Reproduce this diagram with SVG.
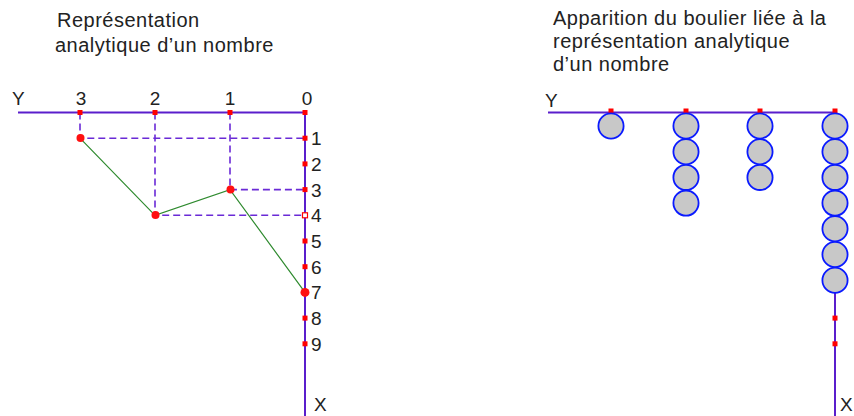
<svg xmlns="http://www.w3.org/2000/svg" width="854" height="416" viewBox="0 0 854 416">
<style>
text{font-family:"Liberation Sans",Arial,sans-serif;font-size:20px;fill:#222;letter-spacing:0.5px}
.lbl{font-size:19px;letter-spacing:0}
.mid{text-anchor:middle}
.axis{stroke:#5a1ecc;stroke-width:2;fill:none}
.dash{stroke:#6a2ad6;stroke-width:1.6;stroke-dasharray:7 4;fill:none}
.poly{stroke:#2e8a2e;stroke-width:1.2;fill:none}
.tick{fill:#ff0000}
.htick{fill:#fff;stroke:#ff0000;stroke-width:1.2}
.pt{fill:#ff1010}
.bead{fill:#c8c8c8;stroke:#0a1aff;stroke-width:1.8}
</style>
<defs>
<rect id="tk" class="tick" x="-2.5" y="-2.5" width="5" height="5"/>
<circle id="bd" class="bead" r="12.6"/>
</defs>

<g id="left-title">
<text x="57" y="27">Représentation</text>
<text x="55" y="52">analytique d’un nombre</text>
</g>

<g id="left-axes">
<line class="axis" x1="18" y1="112.5" x2="305" y2="112.5"/>
<line class="axis" x1="305" y1="112.5" x2="305" y2="416"/>
</g>

<g id="connectors">
<path class="dash" d="M80,112.5V138.2H305"/>
<path class="dash" d="M155,112.5V215.3H305"/>
<path class="dash" d="M230,112.5V189.6H305"/>
<polyline class="poly" points="80,138.2 155,215.3 230,189.6 305,292.4"/>
</g>

<g id="left-ticks">
<use href="#tk" x="80" y="112.5"/>
<use href="#tk" x="155" y="112.5"/>
<use href="#tk" x="230" y="112.5"/>
<use href="#tk" x="305" y="112.5"/>
<use href="#tk" x="305" y="138.2"/>
<use href="#tk" x="305" y="163.9"/>
<use href="#tk" x="305" y="189.6"/>
<rect class="htick" x="302.5" y="212.8" width="5" height="5"/>
<use href="#tk" x="305" y="241"/>
<use href="#tk" x="305" y="266.7"/>
<use href="#tk" x="305" y="318.1"/>
<use href="#tk" x="305" y="343.8"/>
</g>

<g id="left-points">
<circle class="pt" cx="80.5" cy="138" r="4"/>
<circle class="pt" cx="155.5" cy="215" r="4"/>
<circle class="pt" cx="230.5" cy="189.6" r="4"/>
<circle class="pt" cx="305" cy="292.4" r="4.5"/>
</g>

<g id="left-labels">
<text class="lbl" x="12" y="105">Y</text>
<text class="lbl mid" x="81" y="105">3</text>
<text class="lbl mid" x="155" y="105">2</text>
<text class="lbl mid" x="230" y="105">1</text>
<text class="lbl mid" x="307" y="105">0</text>
<text class="lbl" x="311" y="145">1</text>
<text class="lbl" x="311" y="171">2</text>
<text class="lbl" x="311" y="197">3</text>
<text class="lbl" x="311" y="222">4</text>
<text class="lbl" x="311" y="248">5</text>
<text class="lbl" x="311" y="274">6</text>
<text class="lbl" x="311" y="299">7</text>
<text class="lbl" x="311" y="325">8</text>
<text class="lbl" x="311" y="351">9</text>
<text class="lbl" x="314" y="411">X</text>
</g>

<g id="right-title">
<text x="553" y="25">Apparition du boulier liée à la</text>
<text x="553" y="48">représentation analytique</text>
<text x="553" y="71">d’un nombre</text>
</g>

<g id="right-axes">
<line class="axis" x1="548" y1="112.5" x2="835" y2="112.5"/>
<line class="axis" x1="835" y1="112.5" x2="835" y2="416"/>
<use href="#tk" x="611" y="111"/>
<use href="#tk" x="686" y="111"/>
<use href="#tk" x="760" y="111"/>
<use href="#tk" x="835" y="111"/>
<use href="#tk" x="835" y="318.1"/>
<use href="#tk" x="835" y="343.8"/>
<text class="lbl" x="545" y="107">Y</text>
<text class="lbl" x="840" y="411">X</text>
</g>

<g id="beads-3">
<use href="#bd" x="611" y="126"/>
</g>
<g id="beads-2">
<use href="#bd" x="686" y="126"/>
<use href="#bd" x="686" y="151.7"/>
<use href="#bd" x="686" y="177.4"/>
<use href="#bd" x="686" y="203.1"/>
</g>
<g id="beads-1">
<use href="#bd" x="760" y="126"/>
<use href="#bd" x="760" y="151.7"/>
<use href="#bd" x="760" y="177.4"/>
</g>
<g id="beads-0">
<use href="#bd" x="835" y="126"/>
<use href="#bd" x="835" y="151.7"/>
<use href="#bd" x="835" y="177.4"/>
<use href="#bd" x="835" y="203.1"/>
<use href="#bd" x="835" y="228.8"/>
<use href="#bd" x="835" y="254.5"/>
<use href="#bd" x="835" y="280.2"/>
</g>
</svg>
